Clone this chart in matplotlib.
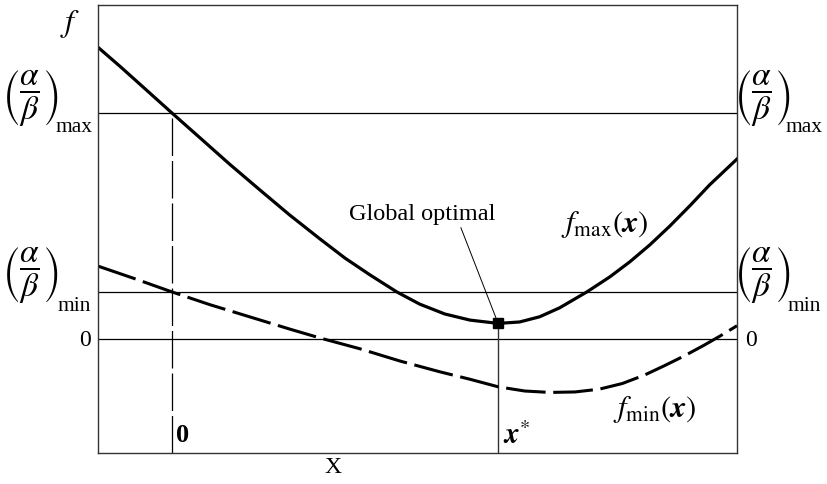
import matplotlib.pyplot as plt

plt.rcParams['font.family'] = ['Liberation Serif', 'DejaVu Serif']
plt.rcParams['mathtext.fontset'] = 'stix'

# values (x: 0 at the dashed line, y: 0 at the "0" line)
x_upper = [-1.0, -0.70, -0.36, 0.0, 0.38, 0.78, 1.19, 1.59, 2.0, 2.34, 2.68, 3.04,
           3.35, 3.69, 4.03, 4.41, 4.70, 4.97, 5.24, 5.61, 5.92, 6.19, 6.46, 6.73,
           7.0, 7.27, 7.64]
f_max = [6.21, 5.80, 5.32, 4.81, 4.28, 3.72, 3.17, 2.64, 2.13, 1.72, 1.36, 1.0,
         0.74, 0.53, 0.40, 0.33, 0.36, 0.47, 0.66, 1.0, 1.32, 1.64, 2.0, 2.40,
         2.83, 3.28, 3.83]
x_lower = [-1.0, -0.5, 0.0, 0.51, 1.05, 1.59, 2.0, 2.54, 3.08, 3.62, 4.03, 4.41,
           4.77, 5.11, 5.45, 5.78, 6.09, 6.39, 6.66, 6.93, 7.20, 7.41, 7.64]
f_min = [1.55, 1.28, 1.0, 0.73, 0.47, 0.21, 0.02, -0.21, -0.47, -0.70, -0.86, -1.02,
         -1.11, -1.14, -1.13, -1.07, -0.95, -0.77, -0.57, -0.36, -0.13, 0.06, 0.28]

ab_max = 4.81
ab_min = 1.0
x_star = 4.41
f_star = 0.33

frac_lbl = r'$\left(\dfrac{\alpha}{\beta}\right)$'

fig = plt.figure(figsize=(8.27, 4.85), dpi=100)
ax = fig.add_axes([98 / 827, 1 - 454 / 485, (737 - 98) / 827, (454 - 6) / 485])
ax.set_xlim(-1.0, 7.64)
ax.set_ylim(-2.43, 7.11)
ax.set_xticks([])
ax.set_yticks([])
for s in ax.spines.values():
    s.set_color('#333333')
    s.set_linewidth(1.0)

# reference levels
for lvl in [ab_max, ab_min, 0.0]:
    ax.axhline(lvl, color='black', lw=0.9)

ax.plot([0, 0], [-2.43, ab_max], color='black', lw=0.9, dashes=(30, 4))
ax.plot([x_star, x_star], [-2.43, f_star], color='#333333', lw=1.0)

ax.plot(x_upper, f_max, color='black', lw=2.3, solid_joinstyle='round')
ax.plot(x_lower, f_min, color='black', lw=2.2, dashes=(13, 2.5), dash_joinstyle='round')
ax.plot([x_star], [f_star], marker='s', color='black', ms=7.5)

ax.annotate('Global optimal', xy=(x_star, f_star), xytext=(3.39, 2.68),
            ha='center', va='center', fontsize=17.5,
            arrowprops=dict(arrowstyle='-', color='black', lw=0.7,
                            relpos=(0.75, 0.0), shrinkA=1, shrinkB=0))

ax.text(5.85, 2.45, r'$f_{\mathrm{max}}(\boldsymbol{x})$', fontsize=22, ha='center', va='center')
ax.text(6.53, -1.48, r'$f_{\mathrm{min}}(\boldsymbol{x})$', fontsize=22, ha='center', va='center')

ax.text(0.06, -2.03, '0', fontsize=19, fontweight='bold', ha='left', va='center')
ax.text(x_star + 0.06, -2.05, r'$\boldsymbol{x}^{*}$', fontsize=21, ha='left', va='center')

# labels outside the box
fig.text(70 / 827, 1 - 24 / 485, r'$f$', fontsize=23, ha='center', va='center')
for cx, sx in [(30, 55), (762, 785)]:
    fig.text(cx / 827, 1 - 98 / 485, frac_lbl, fontsize=24, ha='center', va='center')
    fig.text(sx / 827, 1 - 132 / 485, 'max', fontsize=15.5, ha='left', va='baseline')
    fig.text(cx / 827, 1 - 275 / 485, frac_lbl, fontsize=24, ha='center', va='center')
    fig.text((sx + 2) / 827, 1 - 311 / 485, 'min', fontsize=15.5, ha='left', va='baseline')
fig.text(85 / 827, 1 - 341 / 485, '0', fontsize=17, ha='center', va='center')
fig.text(751 / 827, 1 - 341 / 485, '0', fontsize=17, ha='center', va='center')
fig.text(333 / 827, 1 - 468 / 485, 'X', fontsize=17, ha='center', va='center')

fig.savefig('out.png', dpi=100)
